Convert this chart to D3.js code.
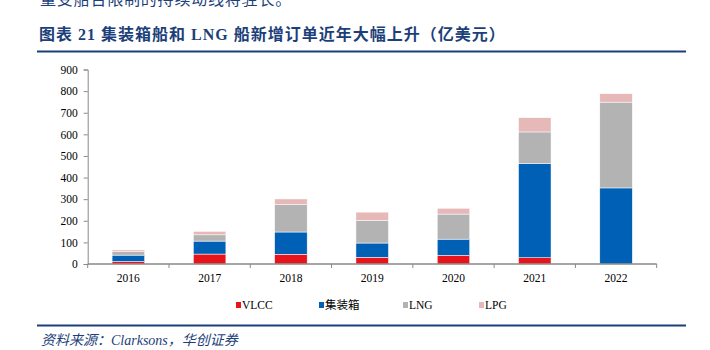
<!DOCTYPE html>
<html>
<head>
<meta charset="utf-8">
<script src="https://cdn.jsdelivr.net/npm/d3@7"></script>
<style>
  body { margin: 0; background: #fff; }
  svg { display: block; }
</style>
</head>
<body>
<svg></svg>
<script>
// data (亿美元)
const years = ["2016", "2017", "2018", "2019", "2020", "2021", "2022"]
const seriesNames = ["VLCC", "集装箱", "LNG", "LPG"]
const vlcc = [12, 46, 45, 31, 40, 29, 0]
const container = [29, 60, 103, 66, 75, 436, 352]
const lng = [16, 29, 127, 105, 116, 146, 397]
const lpg = [8, 16, 26, 38, 27, 66, 39]
const yTicks = [0, 100, 200, 300, 400, 500, 600, 700, 800, 900]

const colors = ["#e8141c", "#0060b6", "#b3b3b3", "#e6b8b8"]
const navy = "#1c3f7a"

const width = 710, height = 350
const svg = d3.select("svg").attr("width", width).attr("height", height)

// text above, mostly cut off like in the page it was taken from
svg.append("text")
    .attr("x", 40).attr("y", 5)
    .attr("font-family", "Noto Sans CJK SC")
    .attr("font-size", 16)
    .attr("letter-spacing", 0.8)
    .attr("fill", navy)
    .text("量受船台限制的持续动线将驻长。")

// title
svg.append("text")
    .attr("x", 39).attr("y", 40)
    .attr("font-family", "Liberation Serif, Noto Sans CJK SC")
    .attr("font-weight", "bold")
    .attr("font-size", 16)
    .attr("letter-spacing", 1)
    .attr("fill", navy)
    .text("图表 21  集装箱船和 LNG 船新增订单近年大幅上升（亿美元）")

svg.append("line")
    .attr("x1", 37).attr("x2", 686).attr("y1", 51.5).attr("y2", 51.5)
    .attr("stroke", navy).attr("stroke-width", 2)

svg.append("line")
    .attr("x1", 37).attr("x2", 686).attr("y1", 325.5).attr("y2", 325.5)
    .attr("stroke", navy).attr("stroke-width", 2)

// source
svg.append("text")
    .attr("x", 41).attr("y", 345)
    .attr("font-family", "Liberation Serif, Noto Sans CJK SC")
    .attr("font-style", "italic")
    .attr("font-size", 14)
    .attr("fill", navy)
    .text("资料来源：Clarksons，华创证券")

// chart
const x0 = 87.7, x1 = 656.7
const y = d3.scaleLinear().domain([0, 900]).range([264, 69.5])
const x = d3.scaleBand().domain(years).range([x0, x1])
    .paddingInner(0.6).paddingOuter(0.3)

const table = years.map((yr, i) => ({
    year: yr, VLCC: vlcc[i], "集装箱": container[i], LNG: lng[i], LPG: lpg[i]
}))
const stack = d3.stack().keys(seriesNames)(table)

svg.append("g")
  .selectAll("g")
  .data(stack)
  .enter()
  .append("g")
    .attr("fill", (d, i) => colors[i])
  .selectAll("rect")
  .data(d => d)
  .enter()
  .append("rect")
    .attr("x", d => x(d.data.year))
    .attr("width", x.bandwidth())
    .attr("y", d => y(d[1]))
    .attr("height", d => y(d[0]) - y(d[1]))
    .attr("stroke", "#fff")
    .attr("stroke-width", 0.5)

// y axis
const yAxis = svg.append("g")
    .attr("transform", `translate(${x0},0)`)
    .call(d3.axisLeft(y).tickValues(yTicks).tickSize(4).tickPadding(6))
yAxis.select(".domain").attr("stroke", "#888")
yAxis.selectAll(".tick line").attr("stroke", "#888")
yAxis.selectAll("text")
    .attr("font-family", "Liberation Serif")
    .attr("font-size", 11.5)
    .attr("fill", "#000")

// x axis
const xAxis = svg.append("g").attr("transform", `translate(0,${y(0)})`)
xAxis.append("line")
    .attr("x1", x0).attr("x2", x1)
    .attr("stroke", "#888").attr("stroke-width", 1.5)
const bounds = d3.range(years.length + 1).map(i => x0 + i * x.step())
xAxis.selectAll(".bt")
    .data(bounds)
    .enter()
    .append("line")
    .attr("x1", d => d).attr("x2", d => d)
    .attr("y1", 0).attr("y2", 4)
    .attr("stroke", "#888")
xAxis.selectAll(".lb")
    .data(years)
    .enter()
    .append("text")
    .attr("x", d => x(d) + x.bandwidth() / 2)
    .attr("y", 18)
    .attr("text-anchor", "middle")
    .attr("font-family", "Liberation Serif")
    .attr("font-size", 11.5)
    .text(d => d)

// legend
const legendX = [236, 319, 403, 479]
const legend = svg.append("g")
  .selectAll("g")
  .data(seriesNames)
  .enter()
  .append("g")
    .attr("transform", (d, i) => `translate(${legendX[i]},305)`)
legend.append("rect")
    .attr("x", 0).attr("y", -3)
    .attr("width", 5).attr("height", 6)
    .attr("fill", (d, i) => colors[i])
legend.append("text")
    .attr("x", 6).attr("y", 4)
    .attr("font-family", "Liberation Serif, Noto Sans CJK SC")
    .attr("font-size", 11.5)
    .text(d => d)
</script>
</body>
</html>
